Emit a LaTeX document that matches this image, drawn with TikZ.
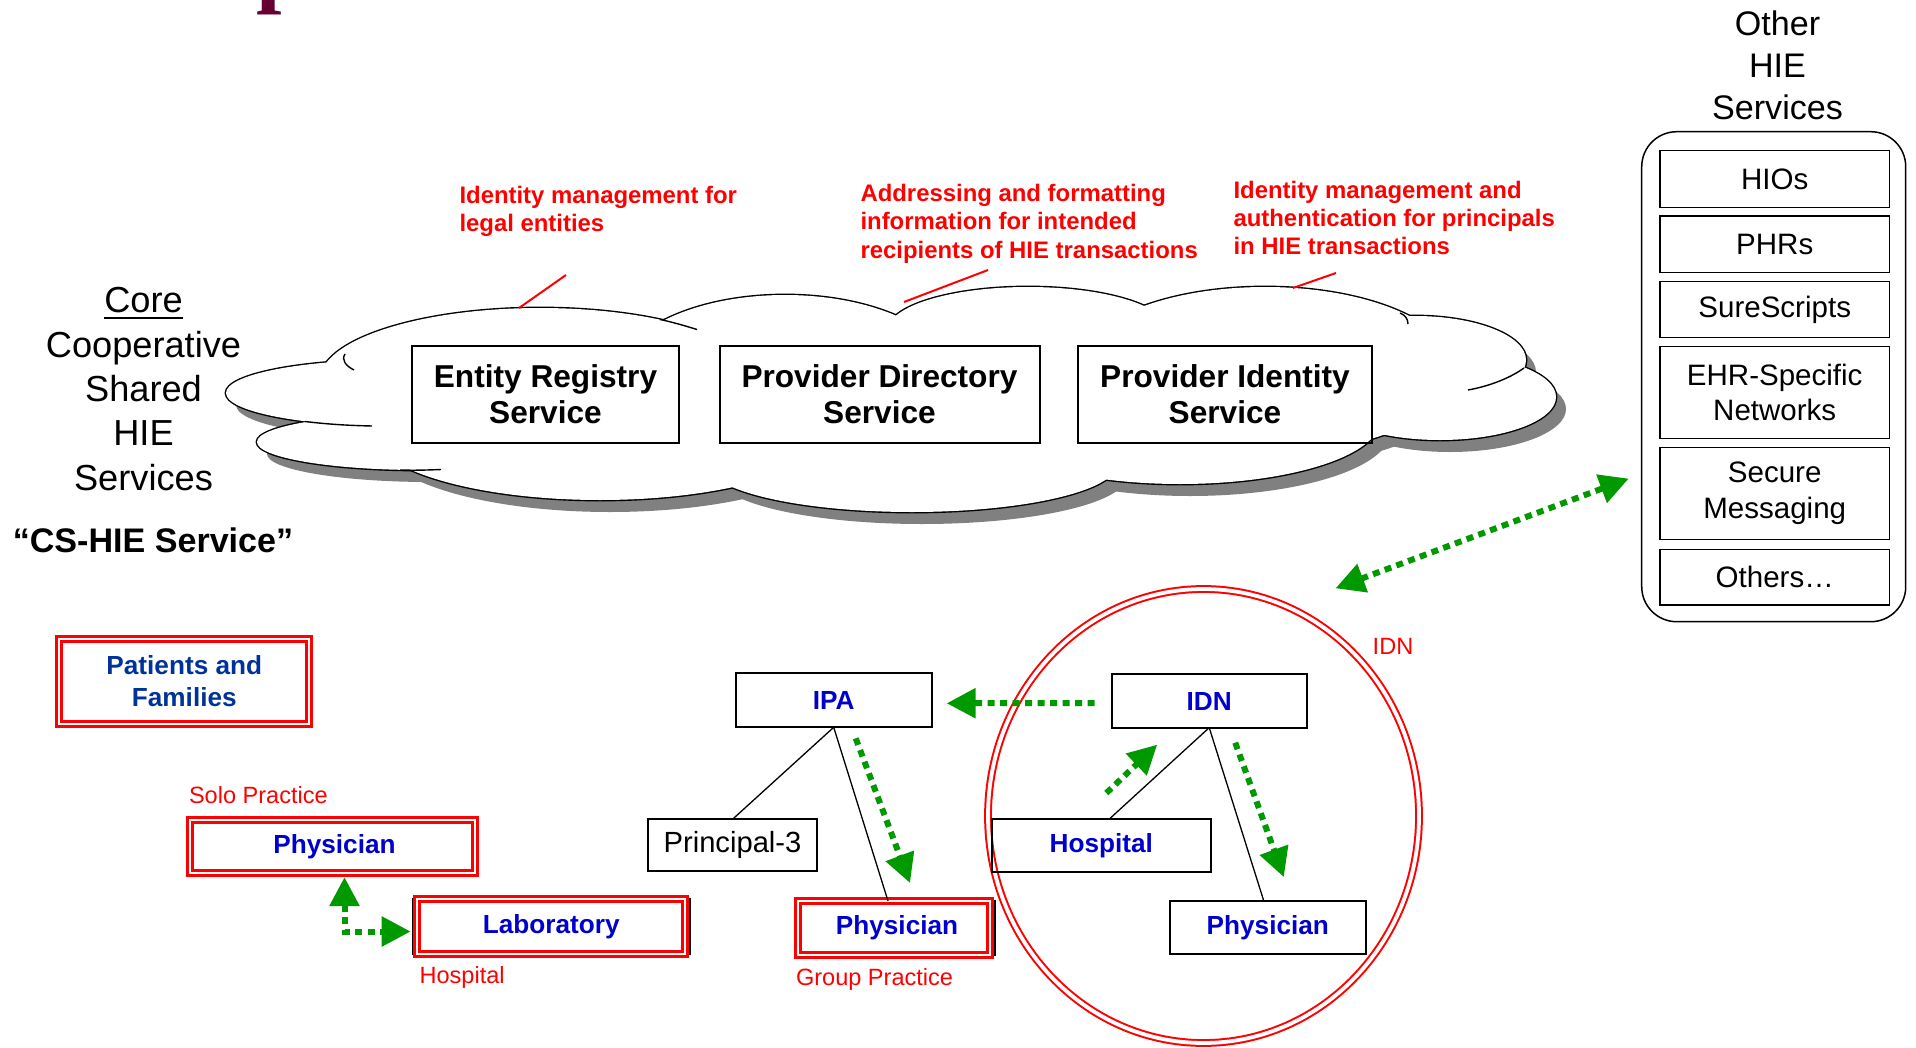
\documentclass[tikz,border=0pt]{standalone}
\usepackage{fontspec}
\setmainfont{Liberation Sans}
\newfontfamily\titlefont{Liberation Serif}
\usetikzlibrary{arrows.meta}

\definecolor{hiered}{RGB}{255,0,0}
\definecolor{hieblue}{RGB}{0,0,204}
\definecolor{famblue}{RGB}{0,51,153}
\definecolor{hiegreen}{RGB}{0,153,0}
\definecolor{cloudgray}{RGB}{128,128,128}
\definecolor{maroon}{RGB}{102,0,51}

\newcommand\lobelist{390/393/164/33, 420/442/163/28, 540/380/220/72, 600/430/230/70,
  785/380/170/85, 1028/330/140/43, 1265/370/190/83, 1415/360/111/44,
  1440/397/116/43, 1180/420/200/64, 912/464/205/48}

\begin{document}
\begin{tikzpicture}[x=0.1mm, y=-0.1mm,
  every node/.style={inner sep=0pt, outer sep=0pt},
  svcbox/.style={draw, line width=0.2mm, minimum height=9.7mm, align=center, font=\fontsize{9}{10.2}\selectfont\bfseries},
  colbox/.style={draw, line width=0.15mm, minimum width=22.93mm, align=center, font=\fontsize{8.4}{10.2}\selectfont},
  unitbox/.style={draw, line width=0.2mm, minimum height=5.33mm, text=hieblue, font=\fontsize{7.45}{9}\selectfont\bfseries},
  redframe/.style={draw=hiered, double=white, double distance=0.22mm, line width=0.28mm},
  note/.style={anchor=west, align=left, text=hiered, font=\fontsize{6.8}{8}\selectfont\bfseries},
  tag/.style={anchor=base west, text=hiered, font=\fontsize{6.7}{8}\selectfont},
  leader/.style={draw=hiered, line width=0.2mm},
  link/.style={draw, line width=0.13mm},
  curl/.style={draw, line width=0.14mm},
  flow/.style={draw=hiegreen, line width=0.6mm, dash pattern=on 0.7mm off 0.55mm, -{Triangle[length=2.9mm,width=2.9mm]}},
  twoway/.style={{Triangle[length=2.9mm,width=2.9mm]}-{Triangle[length=2.9mm,width=2.9mm]}}
]
\useasboundingbox (0,0) rectangle (1916,1047);

\node[anchor=base west, text=maroon, font=\fontsize{26}{26}\selectfont\titlefont\bfseries] (title) at (256,-4) {p};

% cloud
\foreach \cx/\cy/\rx/\ry in \lobelist
  \fill[cloudgray] (\cx+10,\cy+12) ellipse [x radius=\rx, y radius=\ry];
\fill[cloudgray] (910,407) ellipse [x radius=500, y radius=50];
\foreach \cx/\cy/\rx/\ry in \lobelist
  \draw[line width=0.28mm] (\cx,\cy) ellipse [x radius=\rx, y radius=\ry];
\foreach \cx/\cy/\rx/\ry in \lobelist
  \fill[white] (\cx,\cy) ellipse [x radius=\rx, y radius=\ry];
\fill[white] (900,395) ellipse [x radius=500, y radius=50];
\draw[curl] (305,421.5) .. controls (330,424.5) and (350,425.5) .. (372,426);
\draw[curl] (400,470) .. controls (415,470.5) and (428,470) .. (441,469.5);
\draw[curl] (660,319.5) .. controls (672,322) and (684,325.5) .. (697,329.5);
\draw[curl] (1524,368) .. controls (1510,378) and (1490,386) .. (1468,390);
\draw[curl] (345,354) .. controls (341,360) and (346,366) .. (354,370);
\draw[curl] (1400,313) .. controls (1405,315) and (1408,319) .. (1408,324);

\node[align=center, font=\fontsize{10.3}{12.65}\selectfont] (core) at (143.5,389) {\underline{Core}\\Cooperative\\Shared\\HIE\\Services};
\node[font=\fontsize{9.7}{11}\selectfont\bfseries] (cshie) at (153,540) {“CS-HIE Service”};

\node[svcbox, minimum width=26.7mm] (ers) at (545.5,394.5) {Entity Registry\\Service};
\node[svcbox, minimum width=32mm] (pds) at (879.5,394.5) {Provider Directory\\Service};
\node[svcbox, minimum width=29.4mm] (pis) at (1225,394.5) {Provider Identity\\Service};

\node[note] (ersnote) at (459.5,211.75) {Identity management for\\legal entities};
\node[note] (pdsnote) at (860.5,223.75) {Addressing and formatting\\information for intended\\recipients of HIE transactions};
\node[note] (pisnote) at (1233.5,218.25) {Identity management and\\authentication for principals\\in HIE transactions};
\coordinate (ersA) at (566,275);
\coordinate (ersB) at (519,308);
\coordinate (pdsA) at (988,270);
\coordinate (pdsB) at (904,302);
\coordinate (pisA) at (1336,273);
\coordinate (pisB) at (1293,288);
\draw[leader] (ersA) -- (ersB);
\draw[leader] (pdsA) -- (pdsB);
\draw[leader] (pisA) -- (pisB);

% other services
\node[align=center, font=\fontsize{9.7}{11.95}\selectfont] (otherhie) at (1777.5,65.4) {Other\\HIE\\Services};
\node[draw, line width=0.15mm, rounded corners=3.5mm, minimum width=26.4mm, minimum height=49mm] (others) at (1773.7,376.7) {};
\node[colbox, minimum height=5.66mm] (hios) at (1774.7,179) {HIOs};
\node[colbox, minimum height=5.63mm] (phrs) at (1774.7,244.2) {PHRs};
\node[colbox, minimum height=5.56mm] (sure) at (1774.7,309.5) {SureScripts};
\node[colbox, minimum height=9.16mm] (ehr) at (1774.7,392.5) {EHR-Specific\\Networks};
\node[colbox, minimum height=9.16mm] (secure) at (1774.7,493.5) {Secure\\Messaging};
\node[colbox, minimum height=5.57mm] (rest) at (1774.7,577.2) {Others…};

% participants
\draw[draw=hiered, double=white, double distance=0.38mm, line width=0.2mm] (1203.5,816) ellipse [x radius=215.5, y radius=227];
\node[tag] (idntag) at (1372.7,654) {IDN};

\node[redframe, minimum width=25mm, minimum height=8.49mm, align=center, text=famblue, font=\fontsize{7.45}{9}\selectfont\bfseries] (families) at (184.3,681.4) {Patients and\\Families};

\node[tag] (solotag) at (189,803.3) {Solo Practice};
\node[unitbox, minimum width=28.7mm] (solophys) at (334.5,846.5) {Physician};
\draw[redframe] ([shift={(-1,0)}]solophys.south west) rectangle ([shift={(-3,0)}]solophys.north east);
\node[unitbox, minimum width=27.74mm, minimum height=5.5mm] (lab) at (551.3,926.5) {Laboratory};
\draw[redframe] ([shift={(4,0)}]lab.south west) rectangle ([shift={(-5,0)}]lab.north east);
\node[tag] (labtag) at (419.6,983.3) {Hospital};

\node[unitbox, minimum width=19.6mm, minimum height=5.4mm] (ipa) at (833.7,700.3) {IPA};
\node[draw, line width=0.2mm, minimum width=16.96mm, minimum height=5.14mm, font=\fontsize{8.3}{10}\selectfont] (principal) at (732.5,845) {Principal-3};
\node[unitbox, minimum width=19.6mm, minimum height=5.4mm] (grpphys) at (897,928) {Physician};
\draw[redframe] ([shift={(-1,0)}]grpphys.south west) rectangle ([shift={(-5,0)}]grpphys.north east);
\node[tag] (grptag) at (796,985) {Group Practice};

\node[unitbox, minimum width=19.5mm] (idn) at (1209.2,701) {IDN};
\node[unitbox, minimum width=21.93mm] (idnhosp) at (1101.3,845.7) {Hospital};
\node[unitbox, minimum width=19.57mm] (idnphys) at (1267.8,927.7) {Physician};

\draw[link] (ipa.south) -- (principal.north);
\draw[link] (ipa.south) -- ([shift={(-9,0)}]grpphys.north);
\draw[link] (idn.south) -- ([shift={(8,0)}]idnhosp.north);
\draw[link] (idn.south) -- ([shift={(-4,0)}]idnphys.north);

% flows
\draw[flow, shorten <=1.7mm, shorten >=1.5mm] ([shift={(0,2)}]idn.west) -- ([shift={(0,3)}]ipa.east);
\draw[flow] ([shift={(22,11)}]ipa.south) -- ([shift={(13,-18)}]grpphys.north);
\draw[flow] ([shift={(26,15)}]idn.south) -- ([shift={(16,-24)}]idnphys.north);
\draw[flow] ([shift={(5,-26)}]idnhosp.north) -- ([shift={(-52,17)}]idn.south);
\draw[flow, twoway] ([shift={(10,4)}]solophys.south) |- ([shift={(-2,5)}]lab.west);
\coordinate (ringtip) at (1335.5,588.3);
\coordinate (coltip) at (1628.7,478.6);
\draw[flow, twoway] (ringtip) -- (coltip);
\end{tikzpicture}
\end{document}
